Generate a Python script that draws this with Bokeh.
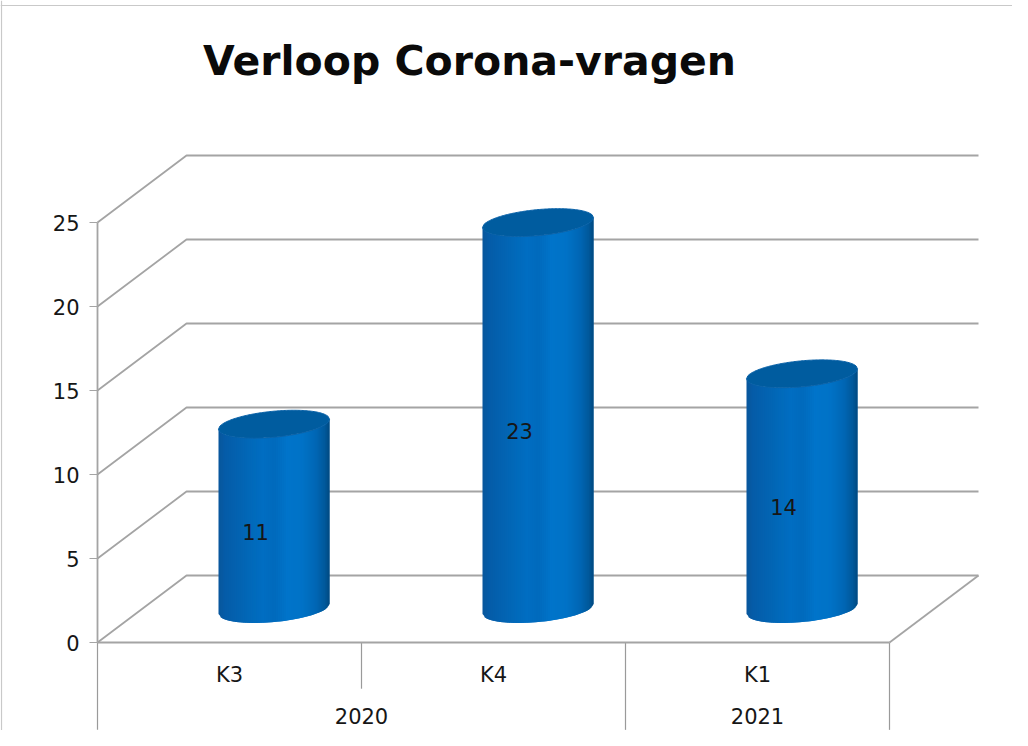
import numpy as np
from bokeh.plotting import figure
from bokeh.models import LinearAxis, FixedTicker, Range1d, Span
from bokeh.core.properties import value as V
from bokeh.embed import file_html
from bokeh.resources import INLINE

TITLE = "Verloop Corona-vragen"
quarters = ["K3", "K4", "K1"]
years = ["2020", "2021"]
year_spans = [2, 1]
values = [11, 23, 14]
y_ticks = [0, 5, 10, 15, 20, 25]

W, H = 1012, 730
PX_X, PX_Y = 264.0, 16.8          # pixels per data unit
X0_IMG, Y0_IMG = 105, 650         # image position of the data origin
OFF = 8                           # page margin
x_start = (OFF - X0_IMG) / PX_X
y_end = (Y0_IMG - OFF) / PX_Y
x_range = Range1d(x_start, x_start + W / PX_X)
y_range = Range1d(y_end - H / PX_Y, y_end)

DX, DY = 89 / PX_X, 67 / PX_Y     # depth of the 3-D box in data units
N = len(quarters)
GRID = "#a4a4a4"
FONT = "DejaVu Sans"
TXT = "#161616"

p = figure(width=W, height=H, x_range=x_range, y_range=y_range, x_axis_type=None, y_axis_type=None,
           output_backend="svg", toolbar_location=None, min_border=0, outline_line_color=None,
           background_fill_color="white", border_fill_color="white")
p.xgrid.visible = False
p.ygrid.visible = False

# outer chart border
BORDER = "#c9c9c9"
p.add_layout(Span(location=x_start + 1 / PX_X, dimension="height", line_color=BORDER, line_width=1.2))
p.add_layout(Span(location=(Y0_IMG - 13) / PX_Y, dimension="width", line_color=BORDER, line_width=1.2))

# wall grid lines
wx, wy = [], []
for t in y_ticks:
    wx.append([0, DX, N + DX])
    wy.append([t, t + DY, t + DY])
p.multi_line(wx, wy, line_color=GRID, line_width=1.8)
# floor right edge
p.line([N, N + DX], [0, DY], line_color=GRID, line_width=1.8)

# category separators below the floor
p.segment(x0=[0, 1, 2, 3], y0=[0, 0, 0, 0], x1=[0, 1, 2, 3], y1=[-5.2, -2.75, -5.2, -5.2],
          line_color="#9a9a9a", line_width=1.2)

# cylinders
stops_u = [0.0, 0.06, 0.2, 0.4, 0.5, 0.62, 0.76, 0.88, 0.96, 1.0]
stops_c = np.array([[0x08, 0x56, 0x9c], [0x05, 0x5c, 0xa8], [0x03, 0x64, 0xb2], [0x00, 0x6e, 0xc2],
                    [0x00, 0x6a, 0xbc], [0x00, 0x74, 0xca], [0x00, 0x72, 0xc6], [0x00, 0x66, 0xb4],
                    [0x00, 0x58, 0x9a], [0x00, 0x48, 0x80]], dtype=float)
HALF_W = 55.5 / PX_X
TILT = 5.0 / PX_Y
BULGE = 13.0 / PX_Y
STRIPS = 56


def shade(u):
    return "#%02x%02x%02x" % tuple(int(round(np.interp(u, stops_u, stops_c[:, i]))) for i in range(3))


def edge(u, sign):
    s = 2 * u - 1
    return s * TILT + sign * BULGE * np.sqrt(np.clip(1 - s * s, 0, 1))


for i, val in enumerate(values):
    cx = i + 0.5 + DX / 2
    base = DY / 2
    top = base + val
    xs, ys, cs = [], [], []
    for k in range(STRIPS):
        # each strip runs a little under its right-hand neighbour, which hides the seams
        u0, u1 = k / STRIPS, min((k + 2) / STRIPS, 1.0)
        um = (k + 0.5) / STRIPS
        x0, x1 = cx - HALF_W + 2 * HALF_W * u0, cx - HALF_W + 2 * HALF_W * u1
        xs.append([x0, x1, x1, x0])
        ys.append([base + edge(u0, -1), base + edge(u1, -1), top + edge(u1, -1), top + edge(u0, -1)])
        cs.append(shade(um))
    p.patches(xs, ys, fill_color=cs, line_color=None)
    uu = np.linspace(0, 1, 81)
    ex = cx - HALF_W + 2 * HALF_W * uu
    p.patch(np.r_[ex, ex[::-1]], np.r_[top + edge(uu, 1), (top + edge(uu, -1))[::-1]],
            fill_color="#005c9f", line_color="#0a62a8", line_width=1)
    p.text([i + 0.5 + 26 / PX_X], [val / 2 + 18 / PX_Y], text=[str(val)], text_font=V(FONT), text_font_size="21px",
           text_color=TXT, text_align="center", text_baseline="middle")

# title
p.text([(477 - X0_IMG) / PX_X], [(Y0_IMG - 68) / PX_Y], text=[TITLE], text_font=V(FONT), text_font_size="41px",
       text_font_style="bold", text_color="#0a0a0a", text_align="center", text_baseline="middle")

# axes
yax = LinearAxis(ticker=FixedTicker(ticks=y_ticks), fixed_location=0, bounds=(0, 25),
                 axis_line_color=GRID, axis_line_width=1.8, major_tick_line_color=GRID, major_tick_in=0,
                 major_tick_out=8, minor_tick_line_color=None, major_label_standoff=10,
                 major_label_text_font=FONT, major_label_text_font_size="21px", major_label_text_color=TXT)
p.add_layout(yax, "left")

q_pos = [i + 0.5 for i in range(N)]
qax = LinearAxis(ticker=FixedTicker(ticks=q_pos), fixed_location=0, bounds=(0, N),
                 major_label_overrides=dict(zip(q_pos, quarters)),
                 axis_line_color=GRID, axis_line_width=2, major_tick_line_color=None, minor_tick_line_color=None,
                 major_label_standoff=14, major_label_text_font=FONT, major_label_text_font_size="21px",
                 major_label_text_color=TXT)
p.add_layout(qax, "below")

y_pos = [float(sum(year_spans[:i]) + year_spans[i] / 2) for i in range(len(years))]
yrax = LinearAxis(ticker=FixedTicker(ticks=y_pos), fixed_location=0, axis_line_color=None,
                  major_label_overrides=dict(zip(y_pos, years)),
                  major_tick_line_color=None, minor_tick_line_color=None, major_label_standoff=59,
                  major_label_text_font=FONT, major_label_text_font_size="21px", major_label_text_color=TXT)
p.add_layout(yrax, "below")

open("out.html", "w").write(file_html(p, INLINE))
